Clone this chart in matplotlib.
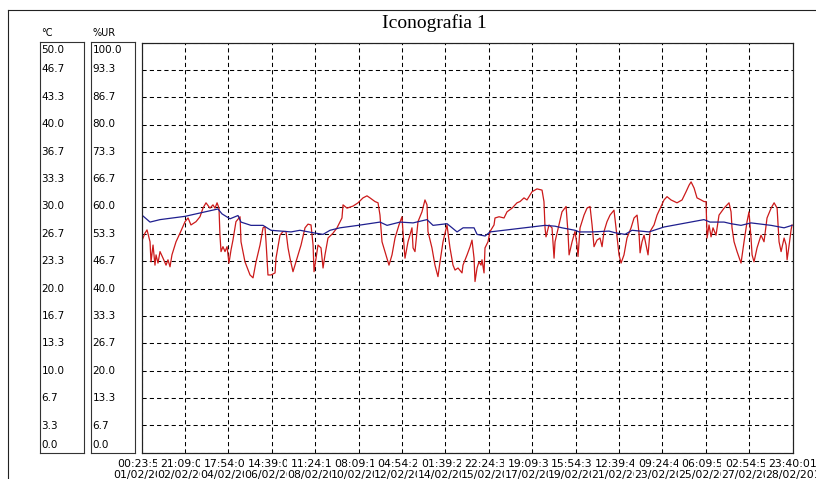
import matplotlib
matplotlib.use("Agg")
import matplotlib.pyplot as plt
import numpy as np

# ore dall'inizio della registrazione (01/02 00:23:56)
ore_temp = [0, 8.8, 19.1, 44.9, 78.9, 83.0, 91.3, 99.5, 102.6, 112.9, 125.3, 133.5,
            154.2, 163.4, 176.9, 187.2, 194.4, 204.7, 223.3, 245.9, 253.2, 266.6,
            280.0, 294.4, 300.6, 315.1, 325.4, 331.6, 342.9, 346.0, 354.3, 359.4,
            416.1, 426.4, 433.6, 447.0, 451.2, 464.6, 482.1, 488.3, 498.6, 505.8,
            523.3, 538.8, 580.0, 586.2, 600.7, 607.9, 618.2, 628.5, 649.2, 662.6, 670.8]
temp = [29.0, 28.1, 28.4, 28.8, 29.7, 29.1, 28.5, 28.9, 28.1, 27.7, 27.7, 27.1,
        26.9, 27.1, 26.8, 26.6, 27.1, 27.4, 27.7, 28.1, 27.7, 28.1,
        28.0, 28.4, 27.7, 27.9, 26.9, 27.4, 27.4, 26.6, 26.4, 26.9,
        27.7, 27.6, 27.4, 27.1, 26.9, 26.9, 27.0, 26.8, 26.6, 27.1,
        26.9, 27.5, 28.4, 28.1, 28.1, 27.9, 27.7, 28.0, 27.7, 27.4, 27.7]

ore_ur = [0, 3.6, 5.7, 8.8, 9.8, 11.9, 13.9, 15.0, 17.0, 19.1, 22.2, 25.3, 27.3, 29.4,
          31.4, 35.6, 39.7, 44.9, 48.0, 51.0, 56.2, 60.3, 63.4, 66.5, 70.6, 73.7, 75.8,
          77.9, 79.9, 80.9, 82.0, 84.0, 86.1, 88.2, 90.2, 92.3, 94.3, 97.4, 101.6, 102.6,
          106.7, 111.9, 115.0, 118.1, 122.2, 125.3, 127.3, 128.4, 130.4, 133.5, 137.7,
          138.7, 142.8, 145.9, 149.0, 151.1, 153.1, 156.2, 159.3, 164.5, 168.6, 171.7,
          174.8, 176.9, 177.9, 180.0, 182.0, 185.1, 187.2, 189.2, 192.3, 197.5, 201.6,
          206.7, 207.8, 211.9, 218.1, 223.3, 228.4, 232.5, 235.6, 240.8, 243.9, 245.9,
          248.0, 249.0, 252.1, 255.2, 258.3, 261.4, 265.5, 268.6, 269.6, 271.7, 274.8,
          278.9, 280.0, 282.0, 285.1, 289.2, 292.3, 294.4, 295.4, 299.5, 302.6, 305.7,
          307.8, 310.9, 315.0, 318.1, 321.2, 323.3, 326.4, 330.5, 331.5, 335.7, 338.8,
          340.8, 342.9, 343.9, 346.0, 348.0, 350.1, 351.1, 353.2, 354.2, 357.3, 359.4,
          363.5, 364.5, 368.7, 373.8, 376.9, 382.1, 387.2, 390.3, 394.4, 397.5, 400.6,
          402.7, 407.8, 413.0, 415.0, 416.1, 417.1, 420.2, 423.3, 425.4, 426.4, 430.5,
          433.6, 437.8, 439.8, 440.9, 444.0, 447.0, 449.1, 450.1, 452.2, 456.3, 459.4,
          462.5, 464.6, 466.6, 469.7, 472.8, 474.9, 476.9, 480.0, 483.1, 487.2, 489.3,
          492.4, 494.5, 497.5, 500.6, 504.8, 507.9, 511.0, 513.0, 514.1, 516.1, 518.2,
          520.3, 522.3, 524.4, 528.5, 531.6, 535.7, 538.8, 541.9, 546.0, 552.2, 557.4,
          561.5, 564.6, 566.7, 569.8, 572.8, 577.0, 580.0, 582.1, 583.2, 585.2, 587.3,
          589.3, 592.4, 594.5, 595.5, 600.7, 605.8, 607.9, 608.9, 611.0, 614.1, 618.2,
          621.3, 624.4, 626.4, 628.5, 629.6, 631.6, 634.7, 638.8, 641.9, 645.0, 649.2,
          652.3, 655.4, 657.4, 659.5, 662.6, 664.7, 665.7, 667.8, 669.8, 670.8]
ur = [51.4, 53.5, 54.3, 51.4, 46.5, 50.6, 45.7, 48.2, 46.2, 49.0, 47.4, 45.7, 47.0, 45.3,
      48.2, 51.4, 53.5, 56.3, 57.2, 55.5, 56.3, 57.5, 59.6, 60.9, 59.6, 60.4, 59.6,
      60.9, 59.6, 53.0, 49.0, 50.2, 49.0, 50.2, 46.2, 49.4, 51.8, 56.3, 57.5, 51.4,
      46.5, 43.3, 42.6, 46.5, 50.6, 54.8, 55.1, 51.4, 43.3, 43.3, 43.8,
      47.4, 53.0, 53.9, 53.9, 49.9, 47.4, 44.1, 46.5, 50.6, 54.8, 55.7,
      55.5, 50.6, 44.1, 47.4, 50.6, 49.9, 45.0, 48.2, 52.3, 53.5, 54.8,
      57.2, 60.4, 59.6, 60.1, 60.9, 62.1, 62.6, 62.1, 61.2, 60.9, 57.9,
      51.4, 50.6, 48.2, 45.7, 48.2, 52.3, 55.5, 57.5, 53.9, 47.4, 51.4,
      54.8, 49.9, 49.0, 56.3, 58.7, 61.6, 60.4, 53.9, 49.9, 45.7, 42.9,
      46.5, 51.4, 55.5, 49.9, 45.7, 44.5, 45.0, 43.8, 45.7, 48.2, 50.2,
      51.8, 47.4, 41.7, 45.0, 46.5, 45.7, 47.0, 43.8, 49.9, 51.4, 53.9,
      55.5, 57.2, 57.5, 57.2, 58.7, 59.6, 60.9, 61.2, 62.1, 61.6, 62.8,
      63.6, 64.3, 64.0, 61.2, 54.8, 52.6, 55.5, 54.8, 47.4, 51.4, 55.5,
      58.7, 60.0, 53.5, 48.2, 51.4, 53.9, 50.6, 47.8, 54.8, 57.9, 59.6,
      60.0, 55.5, 50.2, 51.8, 52.3, 50.2, 53.9, 56.3, 57.9, 59.1, 54.8,
      48.2, 46.2, 48.2, 52.3, 54.8, 57.2, 57.9, 53.5, 48.7, 51.4, 53.0,
      50.6, 48.2, 53.9, 55.5, 57.9, 60.0, 61.6, 62.4, 61.6, 60.9, 61.6,
      63.6, 65.2, 66.0, 64.5, 62.1, 61.6, 61.2, 61.2, 52.3, 55.5, 52.6,
      54.8, 53.0, 56.3, 57.9, 59.6, 60.9, 58.7, 54.8, 51.4, 49.0, 46.2,
      51.4, 56.3, 58.7, 52.3, 48.2, 46.5, 49.9, 53.0, 51.4, 57.2, 59.6,
      60.9, 59.6, 51.4, 49.0, 52.3, 50.6, 47.0, 50.6, 54.3, 55.5]

orari = ["00:23:56", "21:09:00", "17:54:04", "14:39:09", "11:24:13", "08:09:17",
         "04:54:22", "01:39:26", "22:24:30", "19:09:35", "15:54:39", "12:39:43",
         "09:24:48", "06:09:52", "02:54:56", "23:40:01"]
date = ["01/02/201", "02/02/201", "04/02/201", "06/02/201", "08/02/201", "10/02/201",
        "12/02/201", "14/02/201", "15/02/201", "17/02/201", "19/02/201", "21/02/201",
        "23/02/201", "25/02/201", "27/02/201", "28/02/201"]
etich_c = ["0.0", "3.3", "6.7", "10.0", "13.3", "16.7", "20.0", "23.3", "26.7",
           "30.0", "33.3", "36.7", "40.0", "43.3", "46.7", "50.0"]
etich_ur = ["0.0", "6.7", "13.3", "20.0", "26.7", "33.3", "40.0", "46.7", "53.3",
            "60.0", "66.7", "73.3", "80.0", "86.7", "93.3", "100.0"]

durata = 671.27  # ore totali (01/02 00:23:56 -> 28/02 23:40:01)

plt.rcParams["font.family"] = "DejaVu Sans"
W, H = 816, 479
fig = plt.figure(figsize=(W / 100, H / 100), dpi=100)


def fx(px):
    return px / W


def fy(px):
    return 1 - px / H


# cornice esterna
fig.add_artist(plt.Line2D([fx(8), 1], [fy(10), fy(10)], color="#222222", lw=0.8))
fig.add_artist(plt.Line2D([fx(8), fx(8)], [fy(10), 0], color="#222222", lw=0.8))

fig.text(fx(434), fy(28), "Iconografia 1", family="Liberation Serif", fontsize=14,
         ha="center", va="baseline")

# area grafico
ax = fig.add_axes([fx(141.5), fy(452.5), fx(651), 410 / H])
ax.set_xlim(0, durata)
ax.set_ylim(0, 100)
ax.plot(ore_ur, ur, color="#cc1a1a", lw=0.9)

ax2 = ax.twinx()
ax2.set_ylim(0, 50)
ax2.plot(ore_temp, temp, color="#1f1f8f", lw=0.9)
ax2.set_yticks([])
for a in (ax, ax2):
    for s in a.spines.values():
        s.set_color("#222222")
        s.set_linewidth(0.8)

tick_x = np.linspace(0, durata, 16)
ax.set_xticks(tick_x)
ax.set_xticklabels([o + "\n" + d for o, d in zip(orari, date)], fontsize=7.8,
                   linespacing=1.15)
ax.tick_params(axis="x", length=0, pad=4.5)
for lbl in ax.get_xticklabels():
    lbl.set_bbox(dict(facecolor="white", edgecolor="none", pad=0))
ax.set_yticks(np.linspace(0, 100, 16))
ax.set_yticklabels([])
ax.tick_params(axis="y", length=0)
ax.grid(True, color="black", linestyle=(0, (4, 3)), linewidth=0.75)

# riquadri delle scale
for x0, etich, nome in [(40, etich_c, "°C"), (91, etich_ur, "%UR")]:
    bx = fig.add_axes([fx(x0), fy(453), fx(44), 411 / H])
    bx.set_xlim(0, 1)
    bx.set_ylim(0, 15)
    bx.set_xticks([])
    bx.set_yticks([])
    for s in bx.spines.values():
        s.set_color("#333333")
        s.set_linewidth(0.8)
    for i, t in enumerate(etich):
        if i == 15:
            bx.annotate(t, (0.03, i), xytext=(0, -2), textcoords="offset points",
                        va="top", fontsize=7.5)
        elif i == 0:
            bx.annotate(t, (0.03, i), xytext=(0, 2), textcoords="offset points",
                        va="bottom", fontsize=7.5)
        else:
            bx.text(0.03, i, t, va="center", fontsize=7.5)
    fig.text(fx(x0 + 1.5), fy(33), nome, va="center", fontsize=7)

fig.savefig("out.png", dpi=100)
